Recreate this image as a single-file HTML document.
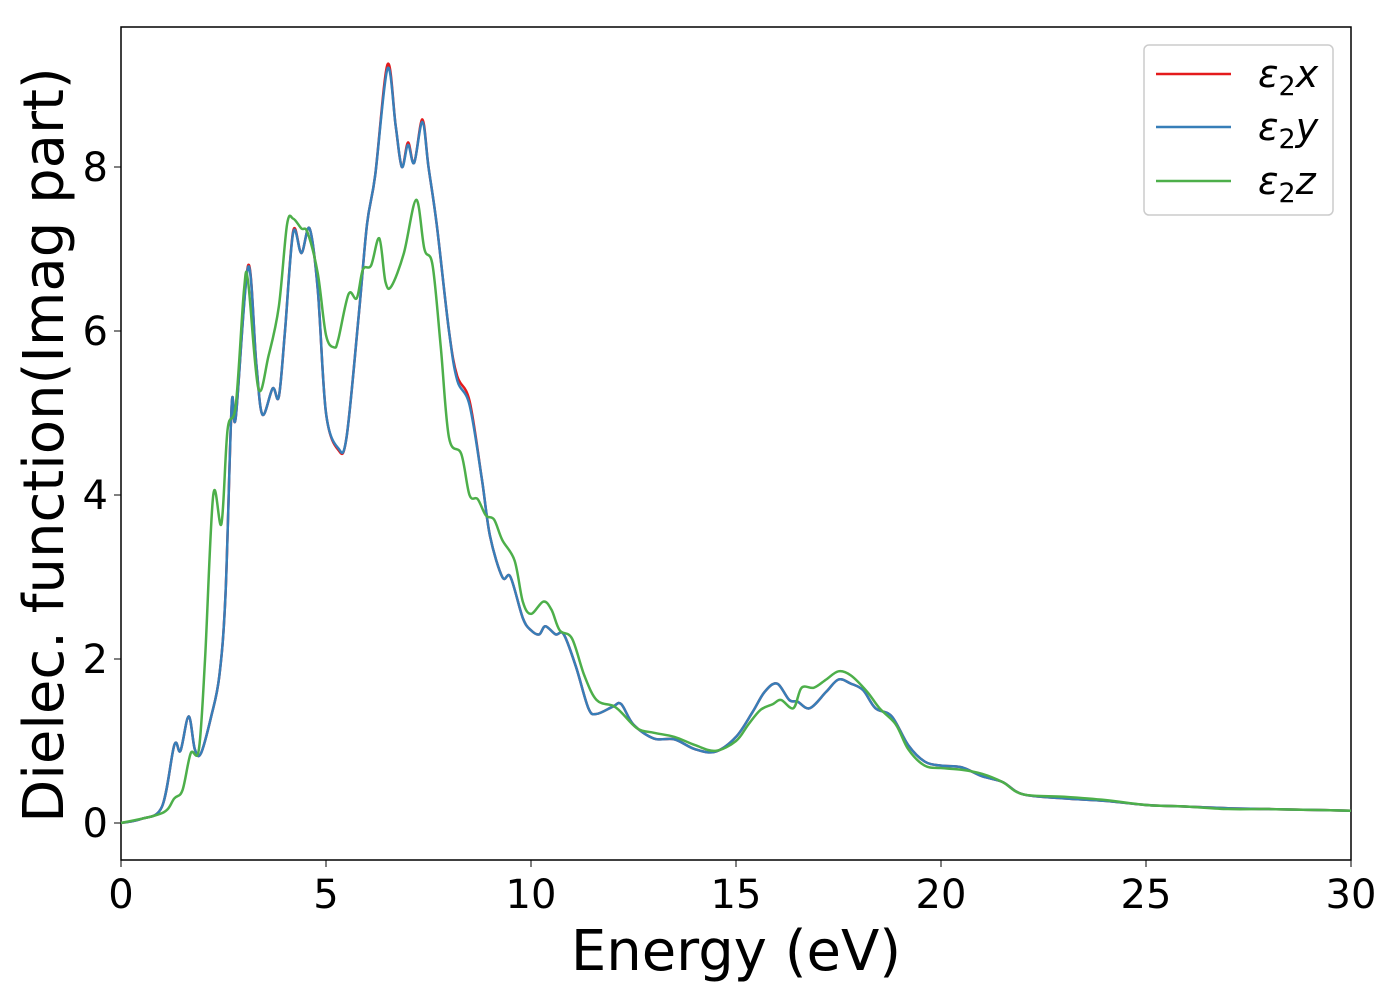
<!DOCTYPE html>
<html><head><meta charset="utf-8"><style>
body{margin:0;background:#fff;}
svg{display:block;font-family:"DejaVu Sans","Liberation Sans",sans-serif;}
</style></head><body>
<svg id="chart" width="1400" height="1000">
<rect x="121" y="27" width="1230" height="833" fill="none" stroke="#000" stroke-width="1.5"/>
<g id="ticks"></g>
<g id="lines"></g>
<text x="736" y="970" font-size="56" text-anchor="middle">Energy (eV)</text>
<text transform="translate(63,445) rotate(-90)" font-size="56" text-anchor="middle">Dielec. function(Imag part)</text>
<g>
<rect x="1144" y="45" width="189" height="170" rx="5" fill="#fff" stroke="#ccc" stroke-width="1.5"/>
<line x1="1156" y1="74" x2="1231" y2="74" stroke="#e41a1c" stroke-width="2.5"/>
<line x1="1156" y1="127" x2="1231" y2="127" stroke="#377eb8" stroke-width="2.5"/>
<line x1="1156" y1="181" x2="1231" y2="181" stroke="#4daf4a" stroke-width="2.5"/>
<text x="1258" y="87" font-size="38" font-style="italic">ε<tspan font-style="normal" font-size="27" dy="8">2</tspan><tspan dy="-8">x</tspan></text>
<text x="1258" y="140" font-size="38" font-style="italic">ε<tspan font-style="normal" font-size="27" dy="8">2</tspan><tspan dy="-8">y</tspan></text>
<text x="1258" y="194" font-size="38" font-style="italic">ε<tspan font-style="normal" font-size="27" dy="8">2</tspan><tspan dy="-8">z</tspan></text>
</g>
</svg>
<script>
const xTicks=[0,5,10,15,20,25,30];
const yTicks=[0,2,4,6,8];
const eY=[0,0.5,1.0,1.3,1.45,1.65,1.8,1.95,2.2,2.4,2.55,2.7,2.8,3.1,3.3,3.45,3.7,3.85,4.0,4.2,4.4,4.6,4.8,5.0,5.3,5.5,5.8,6.0,6.2,6.5,6.7,6.85,7.0,7.15,7.35,7.5,7.7,8.0,8.2,8.5,8.8,9.0,9.3,9.5,9.8,10.0,10.2,10.35,10.6,10.8,11.1,11.4,11.6,12.0,12.2,12.5,13.0,13.5,14.0,14.5,15.0,15.4,15.7,16.0,16.3,16.5,16.8,17.2,17.5,17.8,18.1,18.4,18.8,19.2,19.6,20.0,20.5,21.0,21.5,22.0,23.0,24.0,25.0,26.0,27.0,28.0,29.0,30.0];
const vY=[0,0.05,0.2,0.95,0.88,1.3,0.9,0.85,1.3,1.8,2.8,5.1,4.95,6.78,5.6,4.98,5.3,5.2,6.0,7.2,6.95,7.25,6.5,5.0,4.57,4.7,6.2,7.3,7.9,9.2,8.5,8.0,8.27,8.05,8.55,8.0,7.3,6.0,5.4,5.1,4.2,3.5,3.0,3.0,2.5,2.35,2.3,2.4,2.3,2.3,1.9,1.4,1.33,1.42,1.45,1.2,1.03,1.02,0.9,0.87,1.05,1.35,1.6,1.7,1.5,1.48,1.4,1.6,1.75,1.7,1.62,1.4,1.3,0.95,0.75,0.7,0.68,0.57,0.5,0.35,0.3,0.27,0.22,0.2,0.18,0.17,0.16,0.15];
const vX=[0,0.05,0.2,0.95,0.88,1.3,0.9,0.85,1.3,1.8,2.8,5.1,4.95,6.8,5.6,4.98,5.3,5.2,6.0,7.22,6.95,7.25,6.5,5.0,4.55,4.7,6.2,7.3,7.9,9.25,8.5,8.0,8.3,8.05,8.58,8.0,7.3,6.0,5.45,5.15,4.2,3.5,3.0,3.0,2.5,2.35,2.3,2.4,2.3,2.3,1.9,1.4,1.33,1.42,1.45,1.2,1.03,1.02,0.9,0.87,1.05,1.35,1.6,1.7,1.5,1.48,1.4,1.6,1.75,1.7,1.62,1.4,1.3,0.95,0.75,0.7,0.68,0.57,0.5,0.35,0.3,0.27,0.22,0.2,0.18,0.17,0.16,0.15];
const eZ=[0,1.0,1.3,1.5,1.7,1.9,2.05,2.25,2.45,2.6,2.8,3.0,3.1,3.35,3.6,3.85,4.05,4.2,4.4,4.55,4.8,5.0,5.2,5.3,5.55,5.75,5.9,6.1,6.3,6.45,6.6,6.9,7.2,7.4,7.6,7.8,8.0,8.3,8.5,8.7,8.9,9.1,9.3,9.6,9.8,10.0,10.3,10.5,10.7,11.0,11.3,11.6,12.0,12.2,12.6,13.0,13.5,14.0,14.5,15.0,15.3,15.6,15.9,16.1,16.4,16.6,16.9,17.2,17.5,17.8,18.2,18.5,18.9,19.2,19.6,20.0,20.5,21.0,21.5,22.0,23.0,24.0,25.0,26.0,27.0,28.0,29.0,30.0];
const vZ=[0,0.12,0.3,0.4,0.85,0.9,2.0,4.0,3.65,4.8,5.1,6.5,6.6,5.3,5.7,6.3,7.3,7.37,7.25,7.2,6.7,5.95,5.8,5.9,6.45,6.4,6.75,6.8,7.13,6.6,6.55,6.95,7.6,7.0,6.8,5.8,4.7,4.5,4.0,3.95,3.75,3.7,3.45,3.2,2.7,2.55,2.7,2.6,2.35,2.25,1.8,1.5,1.43,1.35,1.15,1.1,1.05,0.95,0.88,1.0,1.2,1.38,1.45,1.5,1.4,1.65,1.65,1.75,1.85,1.8,1.6,1.4,1.2,0.9,0.7,0.67,0.65,0.6,0.5,0.35,0.32,0.28,0.22,0.2,0.17,0.17,0.16,0.15];
const NS='http://www.w3.org/2000/svg';
function sx(v){return 121+v*41;}
function sy(v){return 823-v*82;}
const tg=document.getElementById('ticks');
xTicks.forEach(t=>{
  const l=document.createElementNS(NS,'line');
  l.setAttribute('x1',sx(t));l.setAttribute('x2',sx(t));l.setAttribute('y1',860);l.setAttribute('y2',867);l.setAttribute('stroke','#000');
  
  
  tg.appendChild(l);
  const tx=document.createElementNS(NS,'text');
  tx.setAttribute('x',sx(t));tx.setAttribute('y',908);tx.setAttribute('font-size','40');tx.setAttribute('text-anchor','middle');
  tx.textContent=t;
  
  
  tg.appendChild(tx);
});
yTicks.forEach(t=>{
  const l=document.createElementNS(NS,'line');
  l.setAttribute('x1',114);l.setAttribute('x2',121);l.setAttribute('y1',sy(t));l.setAttribute('y2',sy(t));l.setAttribute('stroke','#000');
  
  
  tg.appendChild(l);
  const tx=document.createElementNS(NS,'text');
  tx.setAttribute('x',108);tx.setAttribute('y',sy(t)+14);tx.setAttribute('font-size','40');tx.setAttribute('text-anchor','end');
  tx.textContent=t;
  
  
  tg.appendChild(tx);
});
function pathFor(xs,ys){
  const p=xs.map((x,i)=>[sx(x),sy(ys[i])]);
  let d='M'+p[0][0]+','+p[0][1];
  for(let i=0;i<p.length-1;i++){
    const p0=p[i-1]||p[i],p1=p[i],p2=p[i+1],p3=p[i+2]||p2;
    const c1=[p1[0]+(p2[0]-p0[0])/6,p1[1]+(p2[1]-p0[1])/6];
    const c2=[p2[0]-(p3[0]-p1[0])/6,p2[1]-(p3[1]-p1[1])/6];
    d+=' C'+c1[0]+','+c1[1]+' '+c2[0]+','+c2[1]+' '+p2[0]+','+p2[1];
  }
  return d;
}
const lg=document.getElementById('lines');
[[eY,vX,'#e41a1c','line-eps2x'],[eY,vY,'#377eb8','line-eps2y'],[eZ,vZ,'#4daf4a','line-eps2z']].forEach(s=>{
  const p=document.createElementNS(NS,'path');
  p.setAttribute('d',pathFor(s[0],s[1]));
  p.setAttribute('fill','none');p.setAttribute('stroke',s[2]);p.setAttribute('stroke-width','2.5');
  
  
  lg.appendChild(p);
});
</script>
</body></html>
